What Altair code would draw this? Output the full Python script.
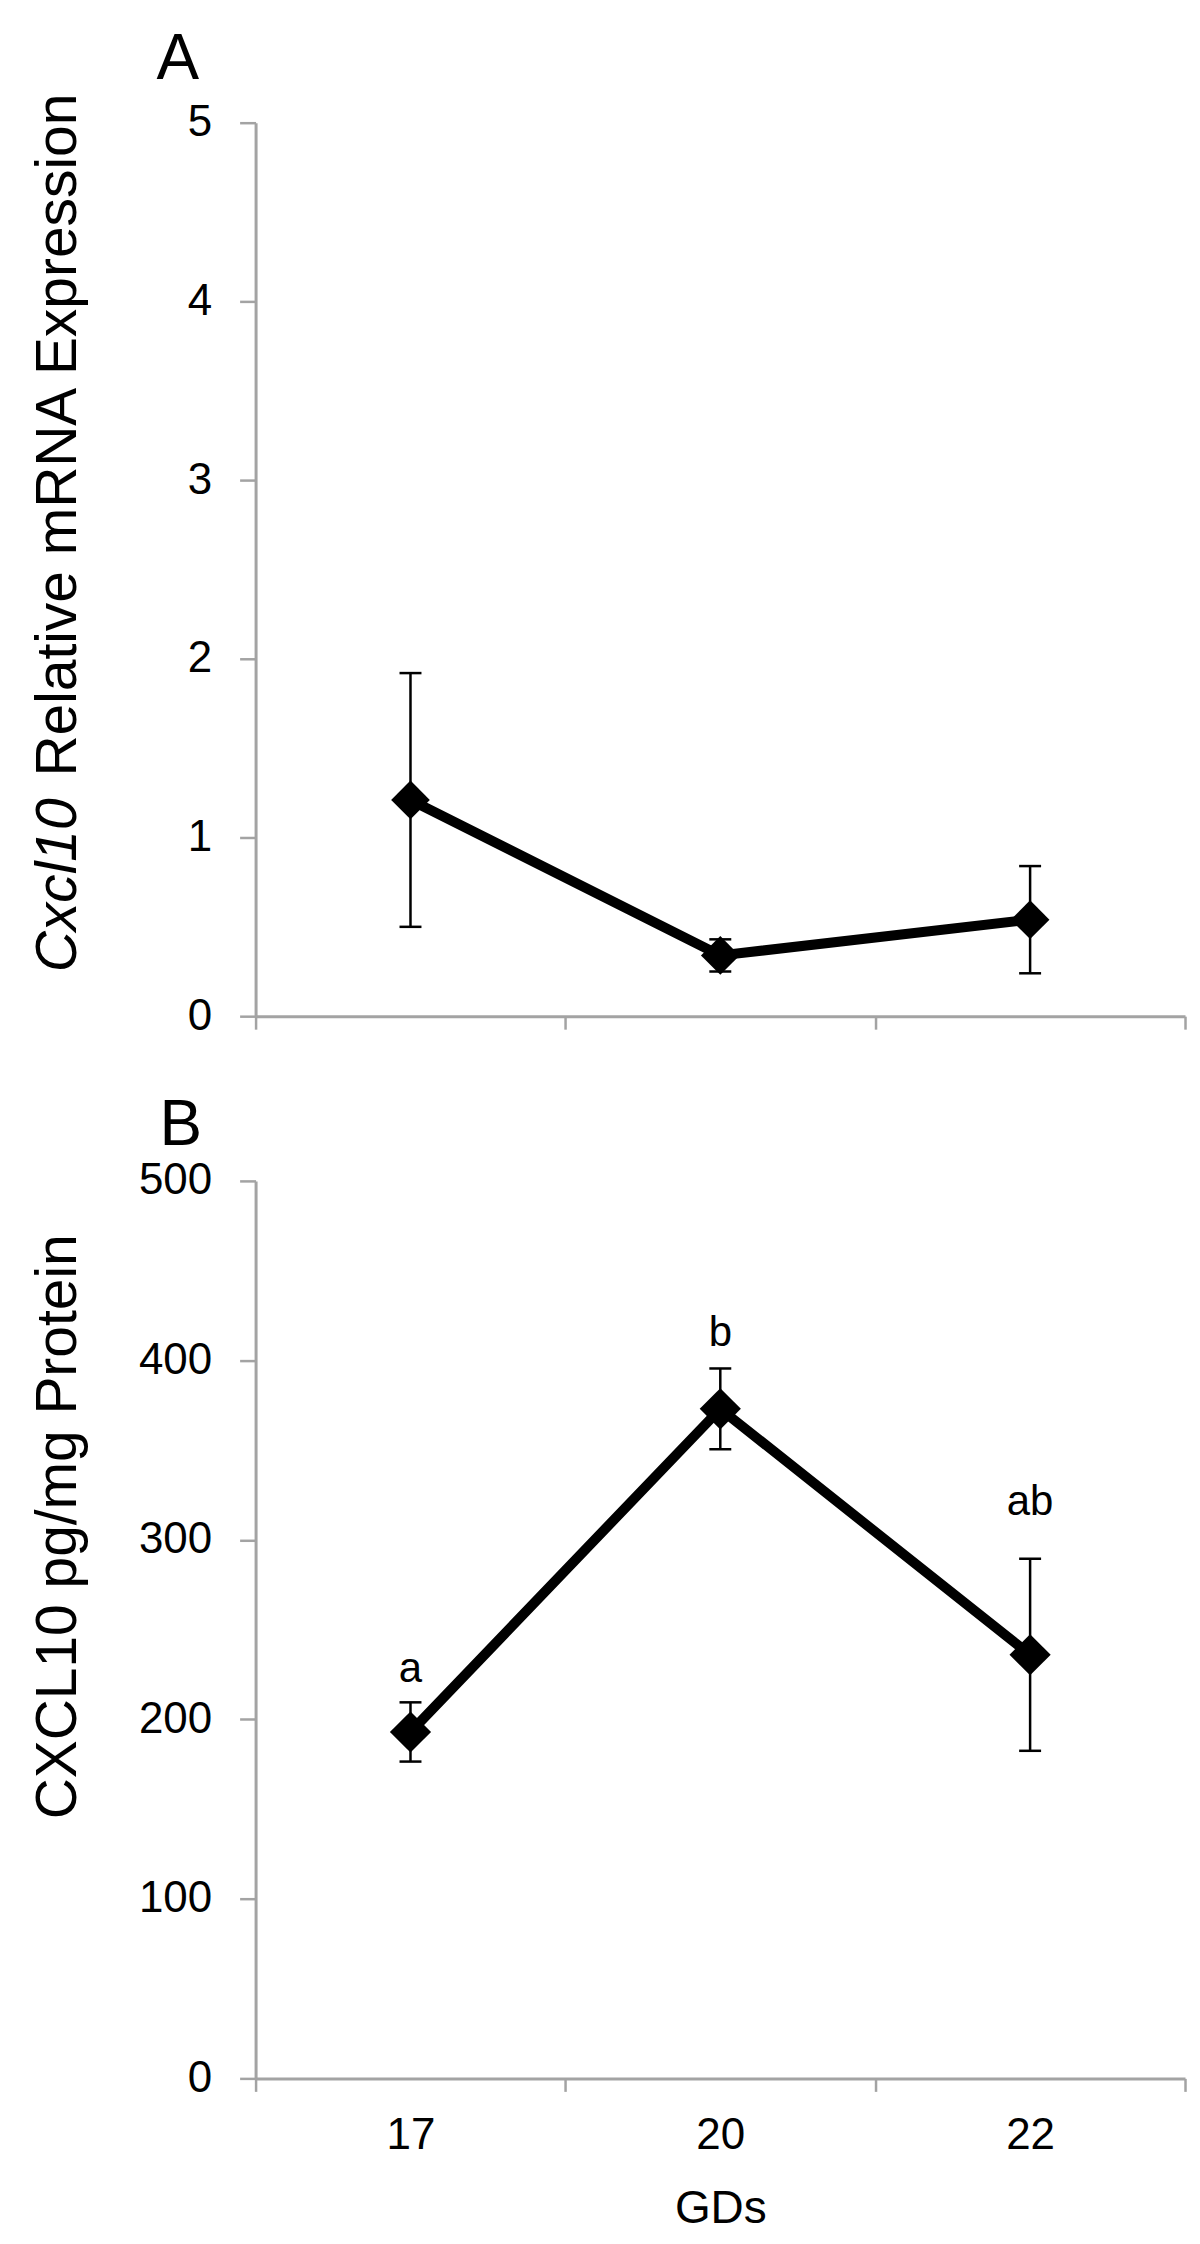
import altair as alt
import pandas as pd

# ---- data ----
gd = ["17", "20", "22"]
mrna_mean = [1.21, 0.34, 0.54]
mrna_err = [0.71, 0.09, 0.30]
prot_mean = [193, 373, 236]
prot_err = [16.5, 22.5, 53.5]
letters = ["a", "b", "ab"]
letter_value = [228, 415, 321]

FONT = "Liberation Sans"
AXIS_GRAY = "#a3a3a3"

dfA = pd.DataFrame({"gd": gd, "mean": mrna_mean, "err": mrna_err})
dfA["lo"] = dfA["mean"] - dfA["err"]
dfA["hi"] = dfA["mean"] + dfA["err"]

dfB = pd.DataFrame({"gd": gd, "mean": prot_mean, "err": prot_err,
                    "letter": letters, "lv": letter_value})
dfB["lo"] = dfB["mean"] - dfB["err"]
dfB["hi"] = dfB["mean"] + dfB["err"]

W = 931


def xenc(show_labels):
    if show_labels:
        ax = alt.Axis(title="GDs", labelAngle=0, tickBand="extent", tickSize=13,
                      labelPadding=22, titleBaseline="alphabetic", titleY=144,
                      titleFontSize=46, titleFontWeight="normal")
    else:
        ax = alt.Axis(title=None, labels=False, tickBand="extent", tickSize=13)
    return alt.X("gd:N", sort=gd, scale=alt.Scale(type="band", paddingInner=0, paddingOuter=0),
                 axis=ax)


def panel(df, ymax, ystep, ytitle_axis, with_x_labels, msize):
    yscale = alt.Scale(domain=[0, ymax], nice=False, zero=True)
    yaxis_kwargs = dict(values=list(range(0, ymax + 1, ystep)), tickSize=16, labelPadding=28,
                        format="d")
    if ytitle_axis is None:
        yaxis = alt.Axis(title=None, **yaxis_kwargs)
    else:
        yaxis = alt.Axis(title=ytitle_axis, titleX=-180, titleY=346, titleAngle=270,
                         titleBaseline="alphabetic", titleAlign="center",
                         titleFontSize=57, titleFontWeight="normal", **yaxis_kwargs)
    base = alt.Chart(df).encode(x=xenc(with_x_labels))
    line = base.mark_line(color="black", strokeWidth=10).encode(
        y=alt.Y("mean:Q", scale=yscale, axis=yaxis))
    rule = base.mark_rule(color="black", strokeWidth=2.5).encode(
        y=alt.Y("lo:Q", scale=yscale), y2="hi:Q")
    cap_lo = base.mark_tick(color="black", thickness=2.5, size=22, opacity=1).encode(
        y=alt.Y("lo:Q", scale=yscale))
    cap_hi = base.mark_tick(color="black", thickness=2.5, size=22, opacity=1).encode(
        y=alt.Y("hi:Q", scale=yscale))
    pts = base.mark_point(shape="diamond", filled=True, size=msize, color="black",
                          opacity=1).encode(y=alt.Y("mean:Q", scale=yscale))
    return [rule, cap_lo, cap_hi, line, pts], yscale


# ---- panel A ----
layersA, yA = panel(dfA, 5, 1, None, False, 1500)
labA = alt.Chart(pd.DataFrame({"t": ["A"]})).mark_text(
    font=FONT, fontSize=64, color="black", align="center", baseline="middle").encode(
    text="t:N", x=alt.value(-78), y=alt.value(-63))
titleA1 = alt.Chart(pd.DataFrame({"t": ["Cxcl10"]})).mark_text(
    font=FONT, fontSize=57, fontStyle="italic", color="black", angle=270,
    align="left", baseline="alphabetic").encode(
    text="t:N", x=alt.value(-180), y=alt.value(851))
titleA2 = alt.Chart(pd.DataFrame({"t": ["Relative mRNA Expression"]})).mark_text(
    font=FONT, fontSize=57, color="black", angle=270,
    align="left", baseline="alphabetic").encode(
    text="t:N", x=alt.value(-180), y=alt.value(655))
chartA = alt.layer(*layersA, labA, titleA1, titleA2).properties(width=W, height=895)

# ---- panel B ----
layersB, yB = panel(dfB, 500, 100, "CXCL10 pg/mg Protein", True, 1700)
letB = alt.Chart(dfB).mark_text(font=FONT, fontSize=42, color="black",
                                baseline="middle", align="center").encode(
    x=alt.X("gd:N", sort=gd), y=alt.Y("lv:Q", scale=yB), text="letter:N")
labB = alt.Chart(pd.DataFrame({"t": ["B"]})).mark_text(
    font=FONT, fontSize=64, color="black", align="center", baseline="middle").encode(
    text="t:N", x=alt.value(-75), y=alt.value(-55))
chartB = alt.layer(*layersB, letB, labB).properties(width=W, height=899)

chart = alt.vconcat(chartA, chartB, spacing=56).properties(
    padding={"left": 21, "top": 18, "right": 5, "bottom": 5},
    background="white"
).configure_view(stroke=None).configure_axis(
    grid=False, domainColor=AXIS_GRAY, domainWidth=3, tickColor=AXIS_GRAY, tickWidth=2.5,
    labelFont=FONT, labelFontSize=44, labelColor="black", titleFont=FONT,
    titleColor="black"
)

chart.save("out.html", embed_options={"renderer": "svg", "actions": False})
